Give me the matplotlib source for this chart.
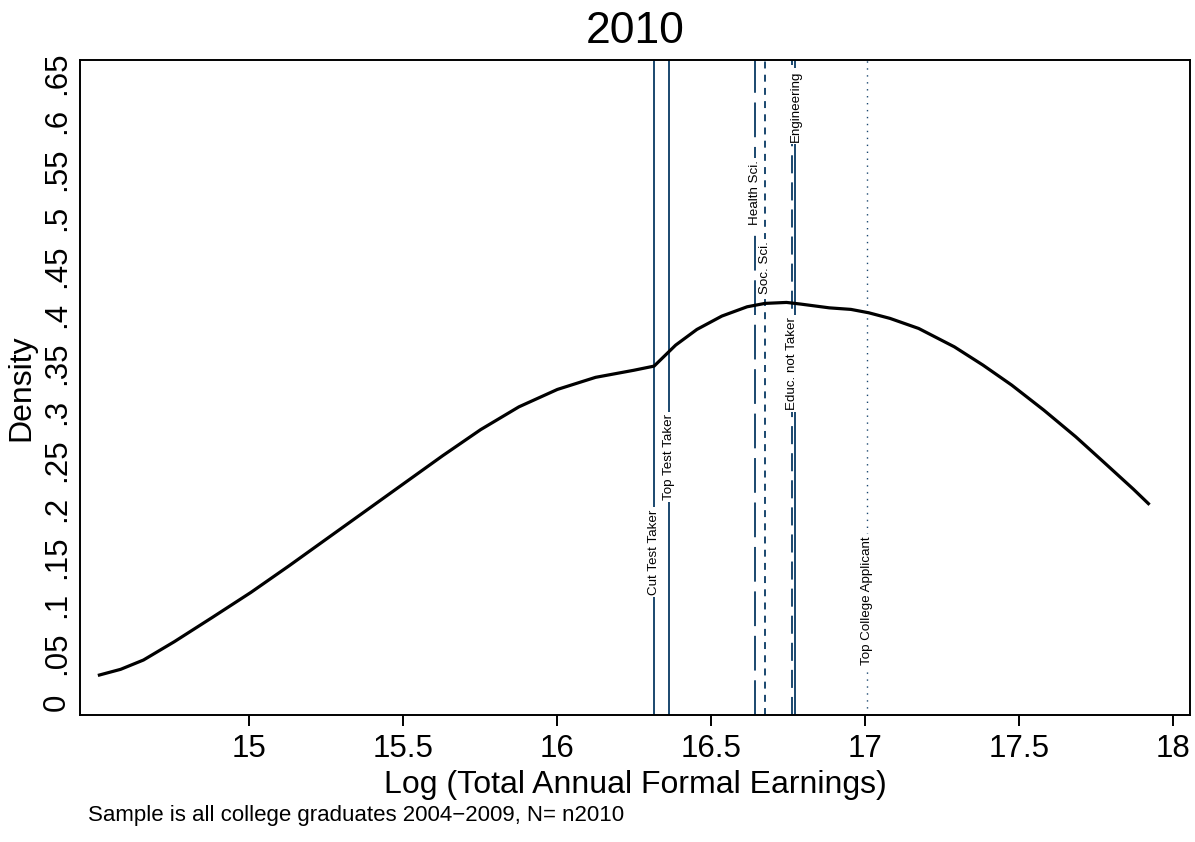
import matplotlib
matplotlib.use("Agg")
import matplotlib.pyplot as plt

plt.rcParams['font.family'] = ['Liberation Sans', 'DejaVu Sans']
plt.rcParams['lines.scale_dashes'] = False

# Density curve (log earnings, density)
x_vals = [14.514, 14.583, 14.657, 14.757, 14.881, 15.006, 15.130, 15.254, 15.379,
          15.503, 15.628, 15.752, 15.876, 16.001, 16.125, 16.249, 16.315, 16.385,
          16.454, 16.535, 16.617, 16.675, 16.745, 16.791, 16.884, 16.954, 17.012,
          17.081, 17.174, 17.290, 17.383, 17.476, 17.580, 17.684, 17.778, 17.871, 17.920]
density = [0.0279, 0.0338, 0.0434, 0.0623, 0.0875, 0.1133, 0.1408, 0.1691, 0.1976,
           0.2259, 0.2544, 0.2815, 0.3050, 0.3230, 0.3355, 0.3428, 0.3471, 0.3688,
           0.3850, 0.3988, 0.4084, 0.4119, 0.4129, 0.4112, 0.4073, 0.4057, 0.4022,
           0.3964, 0.3860, 0.3670, 0.3481, 0.3275, 0.3017, 0.2741, 0.2470, 0.2200, 0.2050]

# Reference lines
line_labels = ["Cut Test Taker", "Top Test Taker", "Health Sci.", "Soc. Sci.",
               "Educ. not Taker", "Engineering", "Top College Applicant"]
line_x = [16.315, 16.365, 16.643, 16.675, 16.762, 16.774, 17.005]
label_y = [0.155, 0.253, 0.527, 0.449, 0.350, 0.616, 0.105]
line_styles = ['-', '-', (0, (25, 7)), (0, (5, 4.5)), (0, (13, 6.5)), '-', (0, (1, 4))]

x_ticks = [15, 15.5, 16, 16.5, 17, 17.5, 18]
x_tick_labels = ["15", "15.5", "16", "16.5", "17", "17.5", "18"]
y_ticks = [0, 0.05, 0.1, 0.15, 0.2, 0.25, 0.3, 0.35, 0.4, 0.45, 0.5, 0.55, 0.6, 0.65]
y_tick_labels = ["0", ".05", ".1", ".15", ".2", ".25", ".3", ".35", ".4", ".45",
                 ".5", ".55", ".6", ".65"]

W, H = 1195, 842
fig = plt.figure(figsize=(W / 100, H / 100), dpi=100)
ax = fig.add_axes([80 / W, (H - 715) / H, (1190 - 80) / W, (715 - 60) / H])

navy = '#1a476f'
for xv, ls, lab, ly in zip(line_x, line_styles, line_labels, label_y):
    lw = 1.0 if lab == "Top College Applicant" else 1.4
    ax.axvline(xv, color=navy, lw=lw, linestyle=ls, zorder=2)
    ax.text(xv, ly, lab, rotation=90, ha='center', va='center', fontsize=9.6,
            color='black', zorder=3,
            bbox=dict(facecolor='white', edgecolor='none', pad=1.4))

ax.plot(x_vals, density, color='black', lw=2.3, zorder=4,
        solid_joinstyle='round')

ax.set_xlim(14.451, 18.055)
ax.set_ylim(-0.0134, 0.6634)
ax.set_xticks(x_ticks)
ax.set_xticklabels(x_tick_labels, fontsize=22.5)
ax.set_yticks(y_ticks)
ax.set_yticklabels(y_tick_labels, fontsize=22.5, rotation=90, va='center')
ax.tick_params(axis='x', length=8, width=1.4, pad=6, direction='out')
ax.tick_params(axis='y', length=0, pad=6)
for s in ax.spines.values():
    s.set_linewidth(1.4)

ax.set_xlabel("Log (Total Annual Formal Earnings)", fontsize=23, labelpad=4)
ax.set_ylabel("Density", fontsize=23, labelpad=4)
ax.set_title("2010", fontsize=32, pad=12)

fig.text(88 / W, (H - 816) / H, "Sample is all college graduates 2004\u22122009, N= n2010",
         fontsize=16, ha='left', va='center')

fig.savefig("out.png", dpi=100, facecolor='white')
